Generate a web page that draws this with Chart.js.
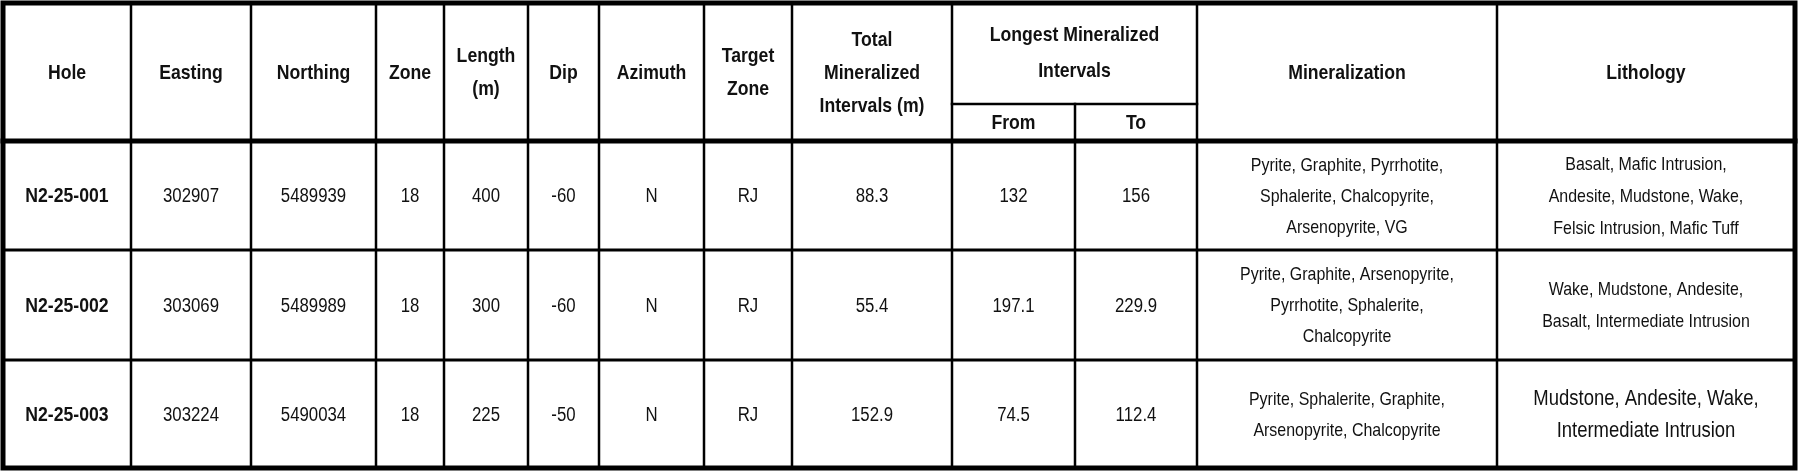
<!DOCTYPE html>
<html>
<head>
<meta charset="utf-8">
<script src="https://cdn.jsdelivr.net/npm/chart.js@4/dist/chart.umd.min.js"></script>
<style>
  html, body { margin: 0; padding: 0; background: #fff; }
  canvas { display: block; }
</style>
</head>
<body>
<canvas id="tableChart" width="1800" height="473"></canvas>
<script>
// table data
const holes = ['N2-25-001', 'N2-25-002', 'N2-25-003'];
const eastings = ['302907', '303069', '303224'];
const northings = ['5489939', '5489989', '5490034'];
const zones = ['18', '18', '18'];
const lengths = ['400', '300', '225'];
const dips = ['-60', '-60', '-50'];
const azimuths = ['N', 'N', 'N'];
const targetZones = ['RJ', 'RJ', 'RJ'];
const totalIntervals = ['88.3', '55.4', '152.9'];
const fromDepths = ['132', '197.1', '74.5'];
const toDepths = ['156', '229.9', '112.4'];
const mineralization = [
    ['Pyrite, Graphite, Pyrrhotite,', 'Sphalerite, Chalcopyrite,', 'Arsenopyrite, VG'],
    ['Pyrite, Graphite, Arsenopyrite,', 'Pyrrhotite, Sphalerite,', 'Chalcopyrite'],
    ['Pyrite, Sphalerite, Graphite,', 'Arsenopyrite, Chalcopyrite']
];
const lithology = [
    ['Basalt, Mafic Intrusion,', 'Andesite, Mudstone, Wake,', 'Felsic Intrusion, Mafic Tuff'],
    ['Wake, Mudstone, Andesite,', 'Basalt, Intermediate Intrusion'],
    ['Mudstone, Andesite, Wake,', 'Intermediate Intrusion']
];
const headers = [['Hole'], ['Easting'], ['Northing'], ['Zone'], ['Length', '(m)'], ['Dip'], ['Azimuth'],
    ['Target', 'Zone'], ['Total', 'Mineralized', 'Intervals (m)'], null, null, ['Mineralization'], ['Lithology']];

// layout (in scale units = pixels)
const colEdges = [3, 131, 251, 376, 444, 528, 599, 704, 792, 952, 1075, 1197, 1497, 1795];
const rowEdges = [3, 141, 250, 360, 468];
const subHeaderY = 104;

const FONT = '"Liberation Sans", Arial, sans-serif';
const SQUEEZE = 0.84; // mimic the condensed face of the original

const tablePlugin = {
    id: 'tableDraw',
    afterDraw(chart) {
        const ctx = chart.ctx;
        const xs = chart.scales.x, ys = chart.scales.y;
        const px = v => xs.getPixelForValue(v);
        const py = v => ys.getPixelForValue(v);

        function lines(textLines, x0, x1, y0, y1, font, gap) {
            const cx = (px(x0) + px(x1)) / 2;
            const cy = (py(y0) + py(y1)) / 2;
            const start = cy - (textLines.length - 1) * gap / 2;
            ctx.font = font;
            textLines.forEach((t, i) => {
                ctx.save();
                ctx.translate(cx, start + i * gap);
                ctx.scale(SQUEEZE, 1);
                ctx.fillText(t, 0, 0);
                ctx.restore();
            });
        }

        ctx.save();
        ctx.fillStyle = '#111';
        ctx.textAlign = 'center';
        ctx.textBaseline = 'middle';

        // header
        const hFont = 'bold 21px ' + FONT;
        headers.forEach((h, i) => {
            if (h) lines(h, colEdges[i], colEdges[i + 1], rowEdges[0], rowEdges[1] + 2, hFont, 33);
        });
        lines(['Longest Mineralized', 'Intervals'], colEdges[9], colEdges[11], rowEdges[0], subHeaderY, hFont, 36);
        lines(['From'], colEdges[9], colEdges[10], subHeaderY, rowEdges[1] + 2, hFont, 0);
        lines(['To'], colEdges[10], colEdges[11], subHeaderY, rowEdges[1] + 2, hFont, 0);

        // body rows
        const bFont = '20px ' + FONT;
        holes.forEach((hole, r) => {
            const y0 = rowEdges[r + 1] + 2, y1 = rowEdges[r + 2];
            const cells = [hole, eastings[r], northings[r], zones[r], lengths[r], dips[r], azimuths[r],
                targetZones[r], totalIntervals[r], fromDepths[r], toDepths[r]];
            cells.forEach((c, i) => {
                lines([c], colEdges[i], colEdges[i + 1], y0, y1, i === 0 ? 'bold 21px ' + FONT : bFont, 0);
            });
            lines(mineralization[r], colEdges[11], colEdges[12], y0, y1, '19px ' + FONT, 31);
            lines(lithology[r], colEdges[12], colEdges[13], y0, y1, r === 2 ? '22px ' + FONT : '19px ' + FONT, 32);
        });

        // grid lines
        ctx.strokeStyle = '#000';
        ctx.lineCap = 'square';
        function seg(x0, y0, x1, y1, w) {
            ctx.lineWidth = w;
            ctx.beginPath();
            ctx.moveTo(px(x0), py(y0));
            ctx.lineTo(px(x1), py(y1));
            ctx.stroke();
        }
        colEdges.slice(1, -1).forEach((x, i) => {
            const col = i + 1;
            if (col === 10) {
                seg(x, subHeaderY, x, rowEdges[4], 2.5);
            } else {
                seg(x, rowEdges[0], x, rowEdges[4], 2.5);
            }
        });
        seg(colEdges[9], subHeaderY, colEdges[11], subHeaderY, 2.5);
        seg(colEdges[0], rowEdges[1], colEdges[13], rowEdges[1], 5);
        seg(colEdges[0], rowEdges[2], colEdges[13], rowEdges[2], 3);
        seg(colEdges[0], rowEdges[3], colEdges[13], rowEdges[3], 3);
        ctx.lineWidth = 5;
        ctx.strokeRect(px(colEdges[0]), py(rowEdges[0]), px(colEdges[13]) - px(colEdges[0]), py(rowEdges[4]) - py(rowEdges[0]));
        ctx.restore();
    }
};

new Chart(document.getElementById('tableChart'), {
    type: 'scatter',
    data: { datasets: [{ data: [] }] },
    options: {
        responsive: false,
        animation: false,
        devicePixelRatio: 1,
        layout: { padding: 0 },
        plugins: { legend: { display: false }, tooltip: { enabled: false } },
        scales: {
            x: { type: 'linear', min: 0, max: 1800, display: false },
            y: { type: 'linear', min: 0, max: 473, reverse: true, display: false }
        }
    },
    plugins: [tablePlugin]
});
</script>
</body>
</html>
